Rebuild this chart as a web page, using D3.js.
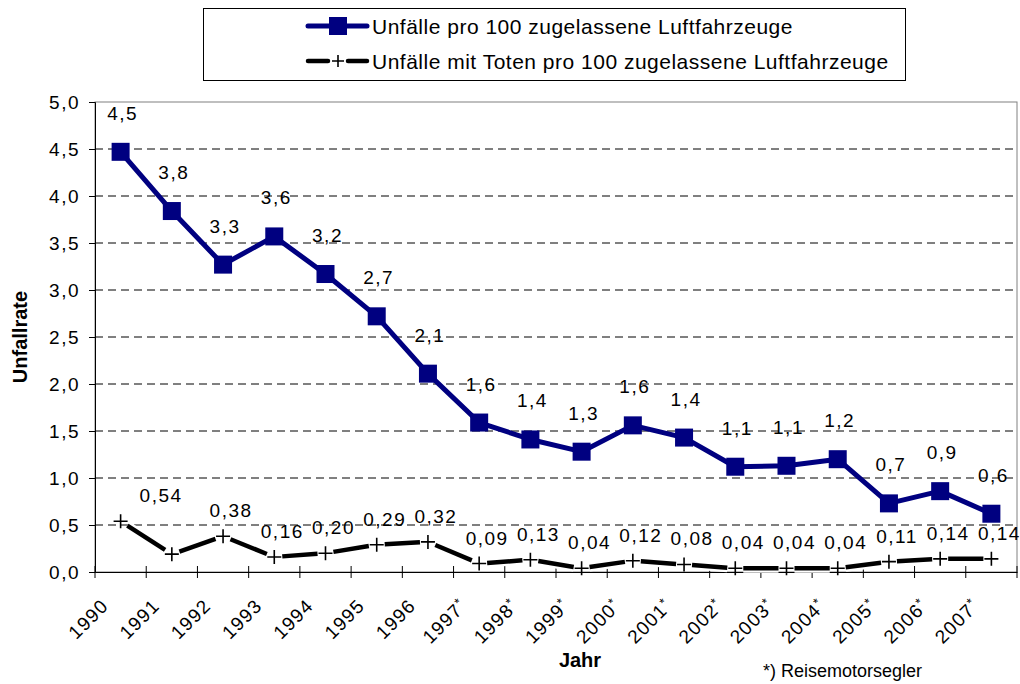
<!DOCTYPE html>
<html>
<head>
<meta charset="utf-8">
<script src="https://cdn.jsdelivr.net/npm/d3@7"></script>
<style>
body { margin: 0; background: #fff; }
text { font-family: "Liberation Sans", Arial, sans-serif; fill: #000; }
</style>
</head>
<body>
<div id="chart"></div>
<script>
var years = ["1990", "1991", "1992", "1993", "1994", "1995", "1996", "1997*", "1998*", "1999*",
    "2000*", "2001*", "2002*", "2003*", "2004*", "2005*", "2006*", "2007*"];

// Unfälle pro 100 zugelassene Luftfahrzeuge
var accidentRate = [4.47, 3.84, 3.27, 3.57, 3.17, 2.72, 2.11, 1.59, 1.41, 1.28,
    1.56, 1.43, 1.12, 1.13, 1.20, 0.73, 0.86, 0.62];
var accidentLabels = ["4,5", "3,8", "3,3", "3,6", "3,2", "2,7", "2,1", "1,6", "1,4", "1,3",
    "1,6", "1,4", "1,1", "1,1", "1,2", "0,7", "0,9", "0,6"];

// Unfälle mit Toten pro 100 zugelassene Luftfahrzeuge
var fatalRate = [0.54, 0.19, 0.38, 0.16, 0.20, 0.29, 0.32, 0.09, 0.13, 0.04,
    0.12, 0.08, 0.04, 0.04, 0.04, 0.11, 0.14, 0.14];
var fatalLabels = ["0,54", "", "0,38", "0,16", "0,20", "0,29", "0,32", "0,09", "0,13", "0,04",
    "0,12", "0,08", "0,04", "0,04", "0,04", "0,11", "0,14", "0,14"];

var yTicks = [0, 0.5, 1, 1.5, 2, 2.5, 3, 3.5, 4, 4.5, 5];

var w = 1020;
var h = 684;
var plotLeft = 95, plotRight = 1017, plotTop = 102, plotBottom = 572;

var svg = d3.select("#chart")
    .append("svg")
    .attr("width", w)
    .attr("height", h);

var xScale = d3.scaleBand()
    .domain(years)
    .range([plotLeft, plotRight])
    .padding(0);

var yScale = d3.scaleLinear()
    .domain([0, 5])
    .range([plotBottom, plotTop]);

var cx = function(i) { return xScale(years[i]) + xScale.bandwidth() / 2; };
var comma = function(v) { return d3.format(".1f")(v).replace(".", ","); };

// plot area frame (grey top / right)
svg.append("rect")
    .attr("x", plotLeft)
    .attr("y", plotTop)
    .attr("width", plotRight - plotLeft)
    .attr("height", plotBottom - plotTop)
    .attr("fill", "none")
    .attr("stroke", "#808080")
    .attr("stroke-width", 1);

// dashed gridlines
svg.selectAll(".grid")
    .data(yTicks.filter(function(d) { return d > 0 && d < 5; }))
    .enter()
    .append("line")
    .attr("class", "grid")
    .attr("x1", plotLeft)
    .attr("x2", plotRight)
    .attr("y1", function(d) { return yScale(d); })
    .attr("y2", function(d) { return yScale(d); })
    .attr("stroke", "#000")
    .attr("stroke-width", 1)
    .attr("stroke-dasharray", "8,5");

// y axis
var yAxis = svg.append("g")
    .attr("transform", "translate(" + plotLeft + ",0)")
    .call(d3.axisLeft(yScale).tickValues(yTicks).tickFormat(comma).tickSize(6).tickPadding(9));
yAxis.select(".domain").attr("stroke", "#000");
yAxis.selectAll("text")
    .style("font-size", "19px")
    .style("letter-spacing", "1.5px");

// x axis (labels at category centres, ticks at category borders)
var xAxis = svg.append("g")
    .attr("transform", "translate(0," + plotBottom + ")")
    .call(d3.axisBottom(xScale).tickSize(0));
xAxis.select(".domain").attr("stroke", "#000");
xAxis.selectAll("text")
    .text(null)
    .attr("y", 0)
    .attr("dy", null)
    .attr("text-anchor", "end")
    .attr("transform", "translate(-11,35) rotate(-45)")
    .style("font-size", "19px")
    .style("letter-spacing", "1.2px")
    .each(function(d) {
        var t = d3.select(this);
        var star = d.indexOf("*") >= 0;
        t.append("tspan").text(d.replace("*", ""));
        if (star) {
            t.append("tspan")
                .attr("dy", "-0.45em")
                .style("font-size", "13px")
                .text("*");
        }
    });

svg.append("g")
    .selectAll("line")
    .data(years.concat(["end"]))
    .enter()
    .append("line")
    .attr("x1", function(d, i) { return plotLeft + i * xScale.step(); })
    .attr("x2", function(d, i) { return plotLeft + i * xScale.step(); })
    .attr("y1", plotBottom - 6)
    .attr("y2", plotBottom + 6)
    .attr("stroke", "#000");

// fatal accidents series: broken thick segments with + markers
var fatalPts = fatalRate.map(function(v, i) { return [cx(i), yScale(v)]; });
var segs = d3.pairs(fatalPts).map(function(p) {
    var dx = p[1][0] - p[0][0], dy = p[1][1] - p[0][1];
    var len = Math.sqrt(dx * dx + dy * dy);
    var g = 8 / len;
    return [p[0][0] + dx * g, p[0][1] + dy * g, p[1][0] - dx * g, p[1][1] - dy * g];
});

var fatalG = svg.append("g");
fatalG.selectAll(".seg-bg")
    .data(segs)
    .enter()
    .append("line")
    .attr("x1", function(d) { return d[0]; })
    .attr("y1", function(d) { return d[1]; })
    .attr("x2", function(d) { return d[2]; })
    .attr("y2", function(d) { return d[3]; })
    .attr("stroke", "#fff")
    .attr("stroke-width", 9);
fatalG.selectAll(".seg")
    .data(segs)
    .enter()
    .append("line")
    .attr("x1", function(d) { return d[0]; })
    .attr("y1", function(d) { return d[1]; })
    .attr("x2", function(d) { return d[2]; })
    .attr("y2", function(d) { return d[3]; })
    .attr("stroke", "#000")
    .attr("stroke-width", 4.5);
fatalG.selectAll(".plus")
    .data(fatalPts)
    .enter()
    .append("path")
    .attr("d", function(d) {
        return "M" + (d[0] - 7) + "," + d[1] + "H" + (d[0] + 7) +
            "M" + d[0] + "," + (d[1] - 7) + "V" + (d[1] + 7);
    })
    .attr("stroke", "#000")
    .attr("stroke-width", 1.6)
    .attr("fill", "none");

// accident rate series
var line = d3.line()
    .x(function(d, i) { return cx(i); })
    .y(function(d) { return yScale(d); });

svg.append("path")
    .datum(accidentRate)
    .attr("d", line)
    .attr("fill", "none")
    .attr("stroke", "#000080")
    .attr("stroke-width", 5)
    .attr("stroke-linejoin", "round");

svg.selectAll(".sq")
    .data(accidentRate)
    .enter()
    .append("rect")
    .attr("class", "sq")
    .attr("x", function(d, i) { return cx(i) - 9; })
    .attr("y", function(d) { return yScale(d) - 9; })
    .attr("width", 18)
    .attr("height", 18)
    .attr("fill", "#000080");

// data labels
svg.selectAll(".acc-label")
    .data(accidentLabels)
    .enter()
    .append("text")
    .attr("class", "acc-label")
    .attr("x", function(d, i) { return cx(i) + 2; })
    .attr("y", function(d, i) { return yScale(accidentRate[i]) - 32; })
    .attr("text-anchor", "middle")
    .style("font-size", "19px")
    .style("letter-spacing", "1.5px")
    .text(function(d) { return d; });

svg.selectAll(".fat-label")
    .data(fatalLabels)
    .enter()
    .append("text")
    .attr("class", "fat-label")
    .attr("x", function(d, i) { return i === 0 ? cx(i) + 19 : cx(i) + 8; })
    .attr("y", function(d, i) { return yScale(fatalRate[i]) - 19; })
    .attr("text-anchor", function(d, i) { return i === 0 ? "start" : "middle"; })
    .style("font-size", "19px")
    .style("letter-spacing", "1.5px")
    .text(function(d) { return d; });

// axis titles
svg.append("text")
    .text("Unfallrate")
    .attr("transform", "translate(27," + ((plotTop + plotBottom) / 2) + ") rotate(-90)")
    .attr("text-anchor", "middle")
    .style("font-size", "20px")
    .style("font-weight", "bold");

svg.append("text")
    .text("Jahr")
    .attr("x", 580)
    .attr("y", 667)
    .attr("text-anchor", "middle")
    .style("font-size", "20px")
    .style("font-weight", "bold");

svg.append("text")
    .text("*) Reisemotorsegler")
    .attr("x", 763)
    .attr("y", 677)
    .style("font-size", "18px");

// legend
var legend = svg.append("g");
legend.append("rect")
    .attr("x", 203.5)
    .attr("y", 8.5)
    .attr("width", 702)
    .attr("height", 72)
    .attr("fill", "#fff")
    .attr("stroke", "#000");

var lg1 = legend.append("g").attr("transform", "translate(338,26)");
lg1.append("line").attr("x1", -30).attr("x2", 29)
    .attr("stroke", "#000080").attr("stroke-width", 5).attr("stroke-linecap", "round");
lg1.append("rect").attr("x", -9).attr("y", -9).attr("width", 18).attr("height", 18)
    .attr("fill", "#000080");
lg1.append("text").text("Unfälle pro 100 zugelassene Luftfahrzeuge")
    .attr("x", 34).attr("y", 7.5)
    .style("font-size", "21px")
    .style("letter-spacing", "0.5px");

var lg2 = legend.append("g").attr("transform", "translate(338,61)");
lg2.append("line").attr("x1", -30).attr("x2", -10)
    .attr("stroke", "#000").attr("stroke-width", 4.5).attr("stroke-linecap", "round");
lg2.append("line").attr("x1", 10).attr("x2", 29)
    .attr("stroke", "#000").attr("stroke-width", 4.5).attr("stroke-linecap", "round");
lg2.append("path").attr("d", "M-6,0H6M0,-6V6")
    .attr("stroke", "#000").attr("stroke-width", 1.6);
lg2.append("text").text("Unfälle mit Toten pro 100 zugelassene Luftfahrzeuge")
    .attr("x", 34).attr("y", 7.5)
    .style("font-size", "21px")
    .style("letter-spacing", "0.5px");
</script>
</body>
</html>
